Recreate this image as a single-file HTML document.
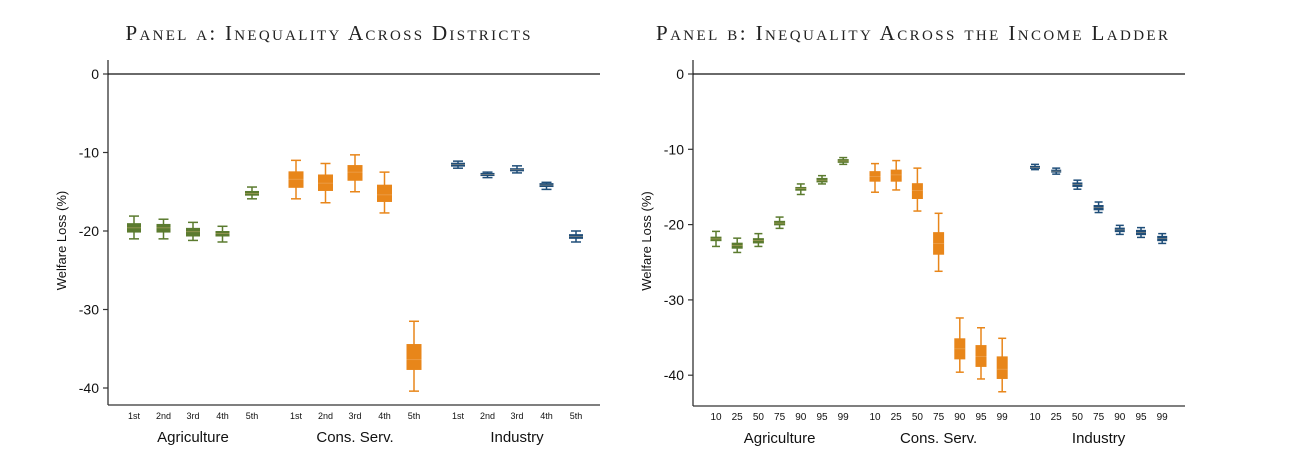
<!DOCTYPE html>
<html><head><meta charset="utf-8"><style>
body{margin:0;background:#fff;width:1304px;height:472px;overflow:hidden}
svg{display:block}
.t{font-family:"Liberation Serif",serif;font-size:21px;fill:#222;font-variant:small-caps}
.ax{font-family:"Liberation Sans",sans-serif;fill:#111}
</style></head><body>
<svg id="chart" width="1304" height="472" viewBox="0 0 1304 472"></svg>
<script>
// Panel a data: [whiskerTop, boxTop, median, boxBottom, whiskerBottom]
const groupsA = ["Agriculture","Cons. Serv.","Industry"];
const subA = ["1st","2nd","3rd","4th","5th"];
const agriA = [[-18.1,-19.0,-19.6,-20.2,-21.0],[-18.5,-19.1,-19.6,-20.2,-21.0],[-18.9,-19.6,-20.1,-20.7,-21.2],[-19.4,-20.0,-20.3,-20.7,-21.4],[-14.4,-14.9,-15.2,-15.5,-15.9]];
const consA = [[-11.0,-12.4,-13.4,-14.5,-15.9],[-11.4,-12.8,-13.9,-14.9,-16.4],[-10.3,-11.6,-12.5,-13.6,-15.0],[-12.5,-14.1,-15.4,-16.3,-17.7],[-31.5,-34.4,-36.4,-37.7,-40.4]];
const indA = [[-11.1,-11.3,-11.55,-11.8,-12.0],[-12.5,-12.6,-12.8,-13.0,-13.2],[-11.7,-12.0,-12.2,-12.4,-12.6],[-13.8,-13.9,-14.15,-14.4,-14.7],[-20.0,-20.4,-20.7,-21.0,-21.4]];
// Panel b data
const subB = ["10","25","50","75","90","95","99"];
const agriB = [[-20.9,-21.6,-21.9,-22.2,-22.9],[-21.8,-22.4,-22.8,-23.2,-23.7],[-21.2,-21.8,-22.1,-22.5,-22.9],[-19.0,-19.5,-19.8,-20.1,-20.5],[-14.6,-15.0,-15.2,-15.5,-16.0],[-13.5,-13.8,-14.1,-14.4,-14.6],[-11.1,-11.3,-11.55,-11.8,-12.0]];
const consB = [[-11.9,-12.9,-13.6,-14.3,-15.7],[-11.5,-12.7,-13.4,-14.3,-15.4],[-12.5,-14.5,-15.5,-16.6,-18.2],[-18.5,-21.0,-22.5,-24.0,-26.2],[-32.4,-35.1,-36.5,-37.9,-39.6],[-33.7,-36.0,-37.5,-38.9,-40.5],[-35.1,-37.5,-39.2,-40.5,-42.2]];
const indB = [[-12.0,-12.2,-12.4,-12.6,-12.7],[-12.5,-12.7,-12.9,-13.1,-13.3],[-14.1,-14.4,-14.7,-15.0,-15.3],[-17.0,-17.4,-17.75,-18.1,-18.4],[-20.1,-20.4,-20.7,-21.0,-21.3],[-20.4,-20.7,-21.05,-21.4,-21.7],[-21.2,-21.5,-21.85,-22.2,-22.5]];
const yTicks = [0,-10,-20,-30,-40];
const colors = ["#5b7b2f","#e8861a","#1f4e79"];

const svg = document.getElementById('chart');
const NS = "http://www.w3.org/2000/svg";
function mk(tag, attrs, parent){const e=document.createElementNS(NS,tag);for(const k in attrs)e.setAttribute(k,attrs[k]);(parent||svg).appendChild(e);return e;}

function panel(cfg){
  const g = mk('g',{});
  
  
  const y = v => cfg.y0 + (-v)*cfg.k;
  const t = mk('text',{x:cfg.tx,y:40,'text-anchor':'middle',class:'t',textLength:cfg.tw,lengthAdjust:'spacing'},g);
  t.textContent = cfg.title;
  
  
  const ya = mk('line',{x1:cfg.left,y1:60,x2:cfg.left,y2:cfg.bottom,stroke:'#333','stroke-width':1.3},g);
  
  
  const xa = mk('line',{x1:cfg.left,y1:cfg.bottom,x2:cfg.right,y2:cfg.bottom,stroke:'#333','stroke-width':1.3},g);
  
  
  const zl = mk('line',{x1:cfg.left,y1:y(0),x2:cfg.right,y2:y(0),stroke:'#111','stroke-width':1.2},g);
  
  
  yTicks.forEach(v=>{
    mk('line',{x1:cfg.left-5,y1:y(v),x2:cfg.left,y2:y(v),stroke:'#333','stroke-width':1.2},g);
    const l = mk('text',{x:cfg.left-9,y:y(v)+5,'text-anchor':'end',class:'ax','font-size':14},g);
    l.textContent = v;
    
    
  });
  const yt = mk('text',{x:0,y:0,class:'ax','font-size':13,'text-anchor':'middle',transform:`translate(${cfg.left-42},${(60+cfg.bottom)/2+8}) rotate(-90)`},g);
  yt.textContent = 'Welfare Loss (%)';
  
  
  cfg.series.forEach((ser,gi)=>{
    ser.forEach((d,i)=>{
      const x = cfg.xs[gi][i];
      const c = colors[gi];
      const bw = cfg.bw[gi], cw = cfg.cw;
      const b = mk('g',{},g);
      
      
      mk('line',{x1:x,y1:y(d[0]),x2:x,y2:y(d[4]),stroke:c,'stroke-width':1.5},b);
      mk('line',{x1:x-cw/2,y1:y(d[0]),x2:x+cw/2,y2:y(d[0]),stroke:c,'stroke-width':1.5},b);
      mk('line',{x1:x-cw/2,y1:y(d[4]),x2:x+cw/2,y2:y(d[4]),stroke:c,'stroke-width':1.5},b);
      mk('rect',{x:x-bw/2,y:y(d[1]),width:bw,height:Math.max(2,y(d[3])-y(d[1])),fill:c},b);
      mk('line',{x1:x-bw/2,y1:y(d[2]),x2:x+bw/2,y2:y(d[2]),stroke:'#f2c08a','stroke-width':0.6,opacity:0.6},b);
      const sl = mk('text',{x:x,y:cfg.bottom+14,'text-anchor':'middle',class:'ax','font-size':cfg.subFs},g);
      sl.textContent = cfg.sub[i];
      
      
    });
    const xs = cfg.xs[gi];
    const gl = mk('text',{x:(xs[0]+xs[xs.length-1])/2,y:cfg.bottom+37,'text-anchor':'middle',class:'ax','font-size':15},g);
    gl.textContent = groupsA[gi];
    
    
  });
}
function xsFrom(start, step, n){const a=[];for(let i=0;i<n;i++)a.push(start+i*step);return a;}
panel({name:'panel-a',title:'Panel a: Inequality Across Districts',tx:328,tw:405,left:108,right:600,bottom:405,y0:74,k:7.85,
  series:[agriA,consA,indA],sub:subA,subFs:9,bw:[14,15,14],cw:10,
  xs:[xsFrom(134,29.5,5),xsFrom(296,29.5,5),xsFrom(458,29.5,5)]});
panel({name:'panel-b',title:'Panel b: Inequality Across the Income Ladder',tx:912,tw:512,left:693,right:1185,bottom:406,y0:74,k:7.53,
  series:[agriB,consB,indB],sub:subB,subFs:10,bw:[11,11,10],cw:8,
  xs:[xsFrom(716,21.2,7),xsFrom(875,21.2,7),xsFrom(1035,21.2,7)]});
</script>
</body></html>
